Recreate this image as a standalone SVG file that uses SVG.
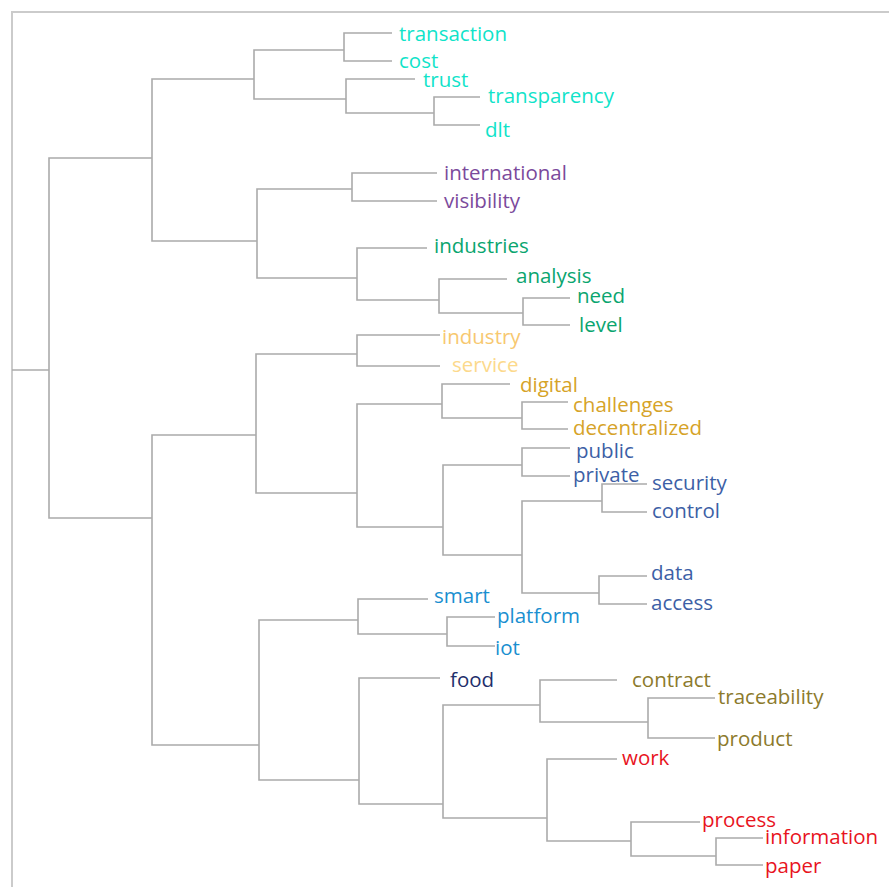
<svg xmlns="http://www.w3.org/2000/svg" width="889" height="887" viewBox="0 0 889 887">
<style>
.frame{fill:none;stroke:#cbcbcb;stroke-width:2}
.ln{fill:none;stroke:#ababab;stroke-width:1.6}
text{font-family:"Open Sans","DejaVu Sans",sans-serif;font-size:20.5px}
.c1{fill:#10e3c9}
.c2{fill:#7b4a9c}
.c3{fill:#0aa56f}
.c4{fill:#f7c870}
.c5{fill:#fcd98c}
.c6{fill:#d6a328}
.c7{fill:#3d5fa6}
.c8{fill:#1a8fd0}
.c9{fill:#1f2f6c}
.c10{fill:#8c7a2c}
.c11{fill:#e8141e}
</style>
<rect width="889" height="887" fill="#ffffff"/>
<path class="frame" d="M12,887 V12 H889"/>
<g id="connectors">
<path class="ln" d="M12,370 H49"/>
<path class="ln" d="M152,158 H49 V518 H152"/>
<path class="ln" d="M392,33 H344 V61 H392"/>
<path class="ln" d="M415,79 H346 V113 H434"/>
<path class="ln" d="M480,97 H434 V125 H480"/>
<path class="ln" d="M344,50 H254 V99 H346"/>
<path class="ln" d="M254,79 H152 V241 H257"/>
<path class="ln" d="M437,173 H352 V201 H437"/>
<path class="ln" d="M427,248 H357 V300 H439"/>
<path class="ln" d="M507,279 H439 V313 H523"/>
<path class="ln" d="M570,298 H523 V325 H570"/>
<path class="ln" d="M352,189 H257 V278 H357"/>
<path class="ln" d="M440,335 H357 V366 H440"/>
<path class="ln" d="M510,384 H442 V418 H522"/>
<path class="ln" d="M568,402 H522 V429 H568"/>
<path class="ln" d="M442,404 H357 V527 H443"/>
<path class="ln" d="M570,448 H522 V476 H570"/>
<path class="ln" d="M522,465 H443 V555 H522"/>
<path class="ln" d="M602,501 H522 V593 H599"/>
<path class="ln" d="M647,484 H602 V512 H647"/>
<path class="ln" d="M647,576 H599 V604 H647"/>
<path class="ln" d="M357,354 H256 V493 H357"/>
<path class="ln" d="M256,435 H152 V745 H259"/>
<path class="ln" d="M428,599 H358 V634 H447"/>
<path class="ln" d="M495,617 H447 V646 H495"/>
<path class="ln" d="M358,620 H259 V780 H359"/>
<path class="ln" d="M440,678 H359 V804 H443"/>
<path class="ln" d="M540,705 H443 V818 H547"/>
<path class="ln" d="M617,680 H540 V722 H648"/>
<path class="ln" d="M715,698 H648 V738 H715"/>
<path class="ln" d="M617,759 H547 V841 H631"/>
<path class="ln" d="M700,822 H631 V856 H716"/>
<path class="ln" d="M763,838 H716 V865 H763"/>
</g>
<g id="n-transaction"><text class="c1" x="399" y="41">transaction</text></g>
<g id="n-cost"><text class="c1" x="399" y="68">cost</text></g>
<g id="n-trust"><text class="c1" x="423" y="87">trust</text></g>
<g id="n-transparency"><text class="c1" x="488" y="103">transparency</text></g>
<g id="n-dlt"><text class="c1" x="485" y="137">dlt</text></g>
<g id="n-international"><text class="c2" x="444" y="180">international</text></g>
<g id="n-visibility"><text class="c2" x="444" y="208">visibility</text></g>
<g id="n-industries"><text class="c3" x="434" y="253">industries</text></g>
<g id="n-analysis"><text class="c3" x="516" y="283">analysis</text></g>
<g id="n-need"><text class="c3" x="577" y="303">need</text></g>
<g id="n-level"><text class="c3" x="579" y="332">level</text></g>
<g id="n-industry"><text class="c4" x="442" y="344">industry</text></g>
<g id="n-service"><text class="c5" x="452" y="372">service</text></g>
<g id="n-digital"><text class="c6" x="520" y="392">digital</text></g>
<g id="n-challenges"><text class="c6" x="573" y="412">challenges</text></g>
<g id="n-decentralized"><text class="c6" x="573" y="435">decentralized</text></g>
<g id="n-public"><text class="c7" x="576" y="458">public</text></g>
<g id="n-private"><text class="c7" x="573" y="482">private</text></g>
<g id="n-security"><text class="c7" x="652" y="490">security</text></g>
<g id="n-control"><text class="c7" x="652" y="518">control</text></g>
<g id="n-data"><text class="c7" x="651" y="580">data</text></g>
<g id="n-access"><text class="c7" x="651" y="610">access</text></g>
<g id="n-smart"><text class="c8" x="434" y="603">smart</text></g>
<g id="n-platform"><text class="c8" x="497" y="623">platform</text></g>
<g id="n-iot"><text class="c8" x="495" y="655">iot</text></g>
<g id="n-food"><text class="c9" x="450" y="687">food</text></g>
<g id="n-contract"><text class="c10" x="632" y="687">contract</text></g>
<g id="n-traceability"><text class="c10" x="718" y="704">traceability</text></g>
<g id="n-product"><text class="c10" x="717" y="746">product</text></g>
<g id="n-work"><text class="c11" x="622" y="765">work</text></g>
<g id="n-process"><text class="c11" x="702" y="827">process</text></g>
<g id="n-information"><text class="c11" x="765" y="844">information</text></g>
<g id="n-paper"><text class="c11" x="765" y="873">paper</text></g>
</svg>
